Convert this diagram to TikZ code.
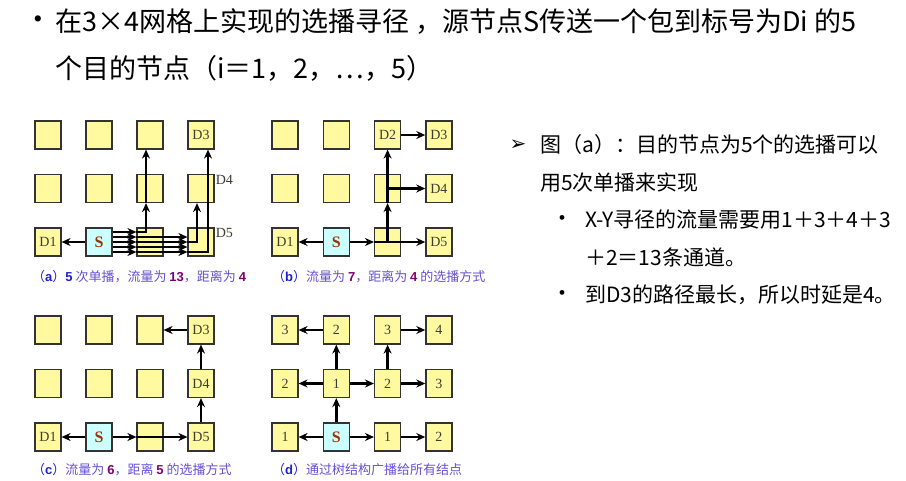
\documentclass[tikz,border=0pt]{standalone}
\usepackage{fontspec}
\setmainfont{Liberation Serif}
\newfontfamily\cjk{Noto Sans CJK SC}
\newfontfamily\sym{DejaVu Sans}
\newfontfamily\capnum{Liberation Sans}
\usetikzlibrary{arrows.meta}
\definecolor{cellyellow}{RGB}{255,250,160}
\definecolor{srccyan}{RGB}{204,255,255}
\definecolor{srcbrown}{RGB}{153,51,0}
\definecolor{labgray}{RGB}{60,60,50}
\definecolor{capblue}{RGB}{30,30,210}
\definecolor{captext}{RGB}{100,80,210}
\definecolor{cappurple}{RGB}{128,0,110}
\newcommand\capb[1]{\textcolor{capblue}{{\capnum\bfseries #1}}}
\newcommand\capp[1]{\textcolor{cappurple}{{\capnum\bfseries #1}}}
\tikzset{
  cell/.style={draw=black!80, line width=1.2pt, fill=cellyellow, minimum width=26pt, minimum height=28pt,
    inner sep=0pt, font=\fontsize{14}{14}\selectfont, text=labgray},
  srccell/.style={cell, fill=srccyan, text=srcbrown, font=\fontsize{16}{16}\selectfont\bfseries},
  lbl/.style={font=\fontsize{14}{14}\selectfont, text=labgray, inner sep=1pt},
  arr/.style={line width=2.7pt, -{Stealth[length=9pt,width=8pt]}},
  captxt/.style={anchor=west, inner sep=0pt, font=\cjk\fontsize{13}{13}\selectfont, text=captext},
  txt/.style={anchor=west, inner sep=0pt, font=\cjk\fontsize{21}{21}\selectfont},
}
\begin{document}
\begin{tikzpicture}[x=1pt,y=-1pt]
\useasboundingbox (0,0) rectangle (906,480);

% heading
\node[font=\fontsize{26}{26}\selectfont, inner sep=0pt] (tbul) at (38,22) {•};
\node[anchor=west, inner sep=0pt, font=\cjk\fontsize{27}{27}\selectfont] (title1) at (55,22)
  {在3×4网格上实现的选播寻径 ，源节点S传送一个包到标号为Di 的5};
\node[anchor=west, inner sep=0pt, font=\cjk\fontsize{27}{27}\selectfont] (title2) at (55,68)
  {个目的节点（i＝1，2，…，5）};

% (a) five unicasts
\foreach \r/\c/\t in {1/1/D1,1/3/,1/4/,2/1/,2/2/,2/3/,2/4/,3/1/,3/2/,3/3/,3/4/D3}
  \node[cell] (a\r\c) at ({48+51*(\c-1)},{242-53.5*(\r-1)}) {\t};
\node[srccell] (a12) at (99,242) {S};
\node[lbl, anchor=north west] (aD4) at (a24.north east) {D4};
\node[lbl, anchor=north west] (aD5) at (a14.north east) {D5};
\draw[arr] (a12) -- (a11);
\foreach \s in {10,5,0,-5,-10}
  \draw[arr] ([yshift=\s pt]a12.east) -- ([yshift=\s pt]a13.west);
\draw[arr] ([yshift=10pt]a13.west) -| ([xshift=-4pt]a23.south);
\draw[arr] ([xshift=-4pt]a23.south) -- ([xshift=-4pt]a33.south);
\foreach \s in {5,0,-5,-10}
  \draw[arr] ([yshift=\s pt]a13.west) -- ([yshift=\s pt]a14.west);
\draw[arr] (a14.west) -| ([xshift=-4pt]a24.south);
\draw[arr] ([yshift=-10pt]a14.west) -| ([xshift=7pt]a34.south);
\node[captxt] (acap) at (32,277)
  {\textcolor{capblue}{（{\capnum\bfseries a}）}\capb{5} 次单播，流量为 \capp{13}，距离为 \capp{4}};

% (b) multicast, traffic 7
\foreach \r/\c/\t in {1/1/D1,1/3/,1/4/D5,2/1/,2/2/,2/3/,2/4/D4,3/1/,3/2/,3/3/D2,3/4/D3}
  \node[cell] (b\r\c) at ({285+51.3*(\c-1)},{242-53.5*(\r-1)}) {\t};
\node[srccell] (b12) at (336.3,242) {S};
\draw[arr] (b12) -- (b11);
\draw[arr] (b12) -- (b13);
\draw[arr] (b13.west) -- (b14);
\draw[arr] (b13.center) -- (b23.south);
\draw[arr] (b23.south) -- (b33);
\draw[arr] (b23.center) -- (b24);
\draw[arr] (b33) -- (b34);
\node[captxt] (bcap) at (272,277)
  {\textcolor{capblue}{（{\capnum\bfseries b}）}流量为 \capp{7}，距离为 \capp{4} 的选播方式};

% (c) multicast, traffic 6
\foreach \r/\c/\t in {1/1/D1,1/3/,1/4/D5,2/1/,2/2/,2/3/,2/4/D4,3/1/,3/2/,3/3/,3/4/D3}
  \node[cell] (c\r\c) at ({48+51*(\c-1)},{437-53.5*(\r-1)}) {\t};
\node[srccell] (c12) at (99,437) {S};
\draw[arr] (c12) -- (c11);
\draw[arr] (c12) -- (c13);
\draw[arr] (c13.west) -- (c14);
\draw[arr] (c14) -- (c24);
\draw[arr] (c24) -- (c34);
\draw[arr] (c34) -- (c33);
\node[captxt] (ccap) at (32,470)
  {\textcolor{capblue}{（{\capnum\bfseries c}）}流量为 \capp{6}，距离 \capp{5} 的选播方式};

% (d) broadcast tree
\foreach \r/\c/\t in {1/1/1,1/3/1,1/4/2,2/1/2,2/2/1,2/3/2,2/4/3,3/1/3,3/2/2,3/3/3,3/4/4}
  \node[cell] (d\r\c) at ({285+51.3*(\c-1)},{437-53.5*(\r-1)}) {\t};
\node[srccell] (d12) at (336.3,437) {S};
\draw[arr] (d12) -- (d11);
\draw[arr] (d12) -- (d13);
\draw[arr] (d13) -- (d14);
\draw[arr] (d12) -- (d22);
\draw[arr] (d22) -- (d21);
\draw[arr] (d22) -- (d23);
\draw[arr] (d22) -- (d32);
\draw[arr, line width=1.6pt] (d32) -- (d31);
\draw[arr] (d23) -- (d24);
\draw[arr] (d23) -- (d33);
\draw[arr] (d33) -- (d34);
\node[captxt] (dcap) at (272,470)
  {\textcolor{capblue}{（{\capnum\bfseries d}）}通过树结构广播给所有结点};

% notes on the right
\node[font=\sym\bfseries\fontsize{20}{20}\selectfont, inner sep=0pt] (rarr) at (518,145) {➢};
\node[txt] (r1) at (540,145) {图（a）：目的节点为5个的选播可以};
\node[txt] (r2) at (540,182) {用5次单播来实现};
\node[font=\fontsize{20}{20}\selectfont, inner sep=0pt] (rb1) at (562,220) {•};
\node[txt] (r3) at (585,220) {X-Y寻径的流量需要用1＋3＋4＋3};
\node[txt] (r4) at (585,257) {＋2＝13条通道。};
\node[font=\fontsize{20}{20}\selectfont, inner sep=0pt] (rb2) at (562,295) {•};
\node[txt] (r5) at (585,295) {到D3的路径最长，所以时延是4。};
\end{tikzpicture}
\end{document}
